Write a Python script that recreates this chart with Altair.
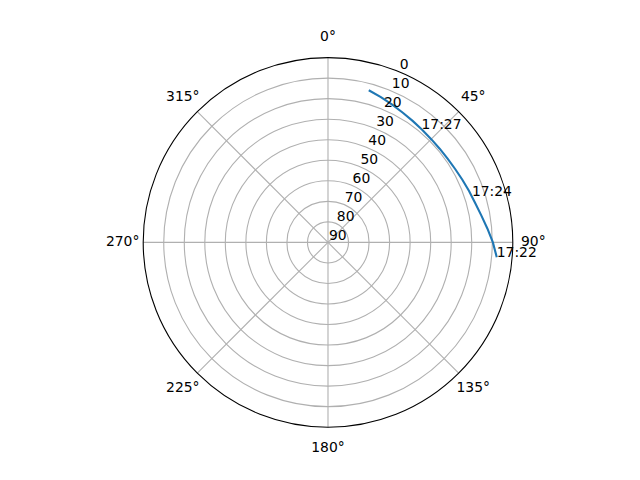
import altair as alt
import pandas as pd

# ---- data ----
track_az = [15, 20, 25, 30, 35, 40, 45, 50, 55, 60, 65, 70, 75, 80, 85, 90, 95]
track_el = [13.3, 14.7, 16.0, 17.1, 17.9, 18.5, 18.9, 19.0, 18.9, 18.5, 17.8, 16.9, 15.8, 14.2, 12.1, 9.7, 7.5]

time_labels = ["17:22", "17:24", "17:27"]
time_az = [95, 72, 39.5]
time_el = [7.5, 16.3, 18.4]

grid_el = [10, 20, 30, 40, 50, 60, 70, 80]
spoke_az = [0, 45, 90, 135, 180, 225, 270, 315]
spoke_labels = ["0°", "45°", "90°", "135°", "180°", "225°", "270°", "315°"]
rtick_el = [0, 10, 20, 30, 40, 50, 60, 70, 80, 90]
rtick_labels = ["0", "10", "20", "30", "40", "50", "60", "70", "80", "90"]
rlabel_angle = 22.5

# ---- layout ----
W, H = 600, 456
CX, CY = 320, 234.4
R = 184.8
k = R / 90.0

FONT = "DejaVu Sans"
FS = 13.9
GRID = "#b0b0b0"

xs = alt.Scale(domain=[-CX / k, (W - CX) / k], nice=False, zero=False)
ys = alt.Scale(domain=[-(H - CY) / k, CY / k], nice=False, zero=False)
rs = alt.Scale(type="linear", domain=[0, 90], range=[0, R], zero=True)


def X(f):
    return alt.X(f"{f}:Q", scale=xs, axis=None)


def Y(f):
    return alt.Y(f"{f}:Q", scale=ys, axis=None)


PX = "(90 - datum.el) * sin(datum.az * PI / 180)"
PY = "(90 - datum.el) * cos(datum.az * PI / 180)"

# grid circles
grid_df = pd.DataFrame({"el": grid_el})
grid = alt.Chart(grid_df).mark_arc(
    theta=0, theta2=6.2832, stroke=GRID, strokeWidth=1.1, fillOpacity=0
).transform_calculate(rr="90 - datum.el").encode(
    x=alt.value(CX), y=alt.value(CY),
    radius=alt.Radius("rr:Q", scale=rs, stack=False),
)

# spokes
spoke_df = pd.DataFrame({"az": spoke_az, "lab": spoke_labels})
spokes = alt.Chart(spoke_df).mark_rule(color=GRID, strokeWidth=1.1).transform_calculate(
    x0="0", y0="0",
    x1="90 * sin(datum.az * PI / 180)", y1="90 * cos(datum.az * PI / 180)",
).encode(x=X("x0"), y=Y("y0"), x2="x1:Q", y2="y1:Q")

# outer circle (spine)
outer = alt.Chart(pd.DataFrame({"el": [0]})).mark_arc(
    theta=0, theta2=6.2832, stroke="black", strokeWidth=1.1, fillOpacity=0
).transform_calculate(rr="90 - datum.el").encode(
    x=alt.value(CX), y=alt.value(CY),
    radius=alt.Radius("rr:Q", scale=rs, stack=False),
)

# angle labels
ang_text = alt.Chart(spoke_df).mark_text(
    font=FONT, fontSize=FS, color="black", align="center", baseline="middle"
).transform_calculate(
    tx="100 * sin(datum.az * PI / 180)", ty="100 * cos(datum.az * PI / 180)"
).encode(x=X("tx"), y=Y("ty"), text="lab:N")

# radial labels
r_df = pd.DataFrame({"el": rtick_el, "lab": rtick_labels, "az": [rlabel_angle] * len(rtick_el)})
r_text = alt.Chart(r_df).mark_text(
    font=FONT, fontSize=FS, color="black", align="left", baseline="alphabetic", dx=1, dy=-2.5
).transform_calculate(px=PX, py=PY).encode(x=X("px"), y=Y("py"), text="lab:N")

# satellite track
track_df = pd.DataFrame({"az": track_az, "el": track_el, "i": list(range(len(track_az)))})
track = alt.Chart(track_df).mark_line(color="#1f77b4", strokeWidth=2.1).transform_calculate(
    px=PX, py=PY
).encode(x=X("px"), y=Y("py"), order="i:Q")

# time labels
t_df = pd.DataFrame({"az": time_az, "el": time_el, "lab": time_labels})
t_text = alt.Chart(t_df).mark_text(
    font=FONT, fontSize=FS, color="black", align="left", baseline="alphabetic"
).transform_calculate(px=PX, py=PY).encode(x=X("px"), y=Y("py"), text="lab:N")

chart = alt.layer(grid, spokes, outer, track, ang_text, r_text, t_text).properties(
    width=W, height=H, autosize=alt.AutoSizeParams(type="none"), padding=0,
    background="white",
).configure_view(strokeWidth=0)

chart.save("out.html", embed_options={"renderer": "svg", "actions": False})
